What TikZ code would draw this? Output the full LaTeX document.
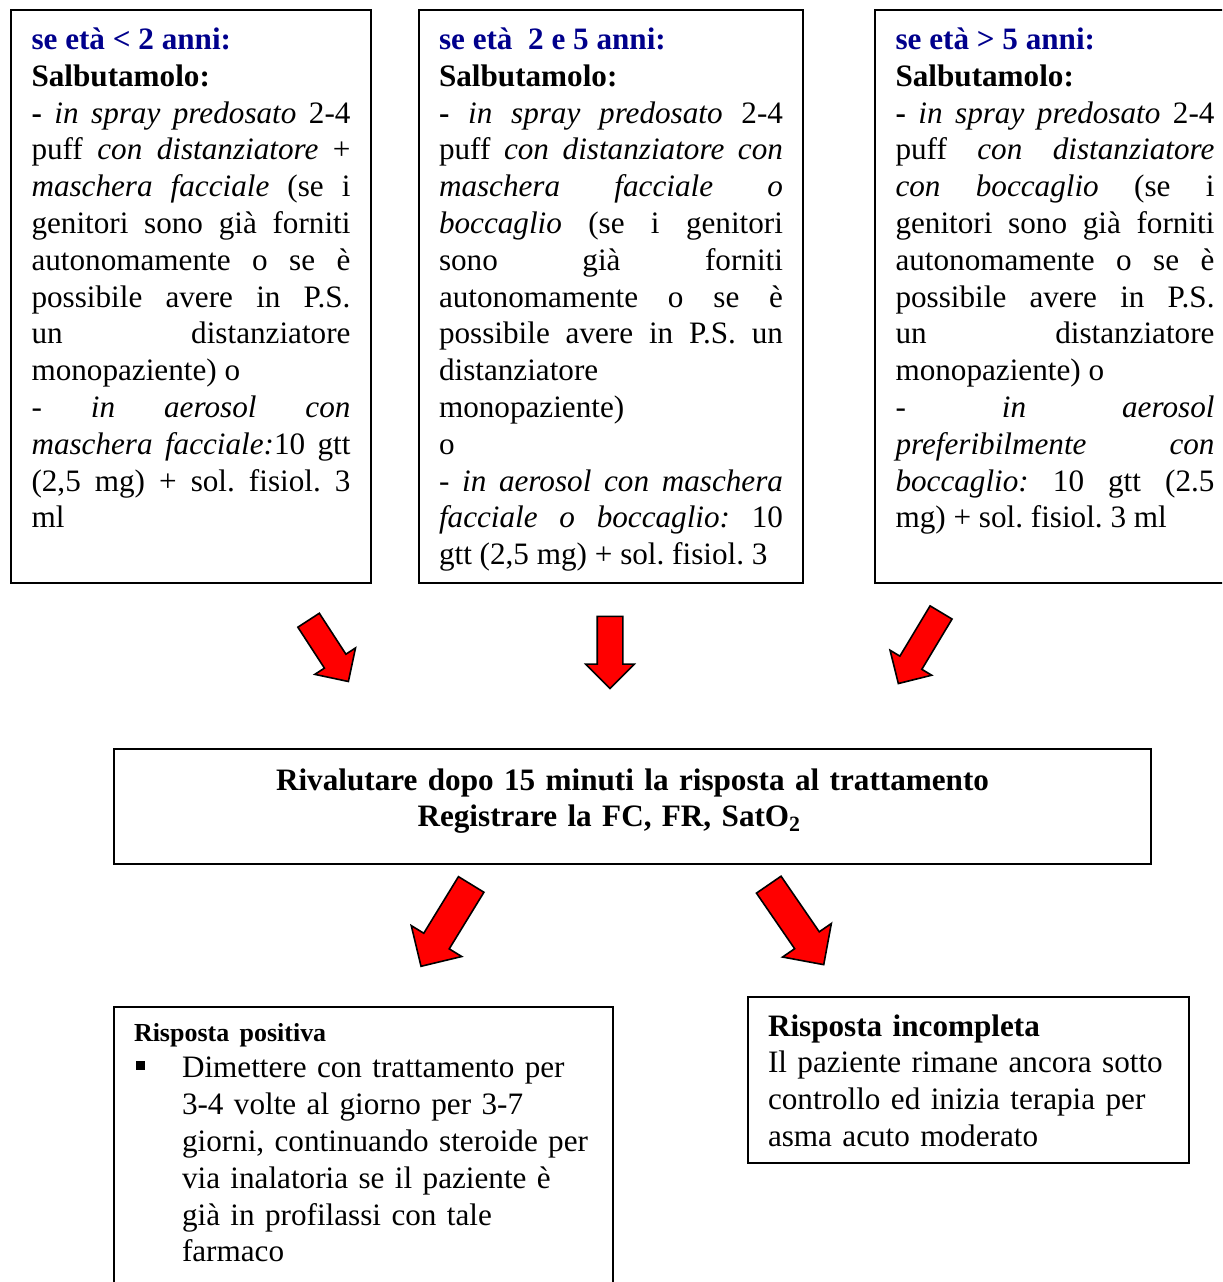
\documentclass[tikz,border=0pt]{standalone}
\usepackage{fontspec}
\setmainfont{Liberation Serif}
\usetikzlibrary{shapes.arrows}
\definecolor{headblue}{RGB}{0,0,140}
\tolerance=10000
\hyphenpenalty=10000
\exhyphenpenalty=10000

\begin{document}
\begin{tikzpicture}[x=0.375pt, y=-0.375pt]
    \tikzstyle{agebox} = [draw=black, line width=0.75pt, anchor=north west, align=justify, inner xsep=7.6875pt, inner ysep=3.75pt, text width=119.625pt, text height=11.1pt, text depth=196.275pt, font={\fontsize{11.69}{13.8}\selectfont\frenchspacing}]
    \tikzstyle{resultbox} = [draw=black, line width=0.75pt, anchor=north west, align=left, inner xsep=7.5pt, inner ysep=3.75pt, font={\fontsize{11.69}{13.8}\selectfont\frenchspacing}]
    \tikzstyle{redarrow} = [single arrow, draw=black, line width=0.6pt, fill=red, inner sep=4.5pt, single arrow head extend=4.3pt]
    \tikzstyle{bigredarrow} = [redarrow, inner sep=5.3pt, single arrow head extend=5.5pt]

    \clip (0,0) rectangle (1222,1282);
    \useasboundingbox (0,0) rectangle (1222,1282);

    \node (under2) [agebox] at (10,9) {{\color{headblue}\bfseries se età < 2 anni:}\par
        \textbf{Salbutamolo:}\par
        \textbf{-} \textit{in spray predosato} 2-4\linebreak
        puff \textit{con distanziatore} +\linebreak
        \textit{maschera facciale} (se i\linebreak
        genitori sono già forniti\linebreak
        autonomamente o se è\linebreak
        possibile avere in P.S.\linebreak
        un distanziatore\linebreak
        monopaziente) o\par
        - \textit{in aerosol con}\linebreak
        \textit{maschera facciale:}10 gtt\linebreak
        (2,5 mg) + sol. fisiol. 3\linebreak
        ml};
    \node (from2to5) [agebox, text width=129pt, inner xsep=7.5pt] at (418,9) {{\color{headblue}\bfseries se età\ \ 2 e 5 anni:}\par
        \textbf{Salbutamolo:}\par
        \textbf{-} \textit{in spray predosato} 2-4\linebreak
        puff \textit{con distanziatore con}\linebreak
        \textit{maschera facciale o}\linebreak
        \textit{boccaglio} (se i genitori\linebreak
        sono già forniti\linebreak
        autonomamente o se è\linebreak
        possibile avere in P.S. un\linebreak
        distanziatore\par
        monopaziente)\par
        o\par
        - \textit{in aerosol con maschera}\linebreak
        \textit{facciale o boccaglio:} 10\linebreak
        gtt (2,5 mg) + sol. fisiol. 3};
    \node (over5) [agebox] at (874,9) {{\color{headblue}\bfseries se età > 5 anni:}\par
        \textbf{Salbutamolo:}\par
        \textbf{-} \textit{in spray predosato} 2-4\linebreak
        puff \textit{con distanziatore}\linebreak
        \textit{con boccaglio} (se i\linebreak
        genitori sono già forniti\linebreak
        autonomamente o se è\linebreak
        possibile avere in P.S.\linebreak
        un distanziatore\linebreak
        monopaziente) o\par
        - \textit{in aerosol}\linebreak
        \textit{preferibilmente con}\linebreak
        \textit{boccaglio:} 10 gtt (2.5\linebreak
        mg) + sol. fisiol. 3 ml};

    \node (reassess) [resultbox, align=center, text width=375pt, inner xsep=6.9375pt, text height=11.625pt, text depth=24pt] at (113,748) {\bfseries Rivalutare dopo 15 minuti la risposta al trattamento\\ Registrare la FC, FR, SatO\textsubscript{2}\hspace{17.25pt}\mbox{}};

    \node (positive) [resultbox, text width=172.125pt, text height=9pt, text depth=93.75pt] at (113,1006) {{\fontsize{9.74}{11.5}\selectfont\bfseries Risposta positiva\par}
        \makebox[18pt][l]{\hspace{0.75pt}\rule[3.1pt]{3.3pt}{3.3pt}}\parbox[t]{154.125pt}{Dimettere con trattamento per\\
        3-4 volte al giorno per 3-7\\
        giorni, continuando steroide per\\
        via inalatoria se il paziente è\\
        già in profilassi con tale\\
        farmaco}};
    \node (incomplete) [resultbox, text width=150.375pt, text height=10.875pt, text depth=43.875pt] at (747,996) {\textbf{Risposta incompleta}\\
        Il paziente rimane ancora sotto\\
        controllo ed inizia terapia per\\
        asma acuto moderato};

    \node (arrunder2) [redarrow, minimum height=27.4pt, rotate=-57] at (325,645.5) {};
    \node (arrfrom2to5) [redarrow, minimum height=27pt, rotate=-90] at (610,646) {};
    \node (arrover5) [redarrow, minimum height=31.1pt, rotate=-121] at (923,642.5) {};
    \node (arrpositive) [bigredarrow, minimum height=36pt, rotate=-121.5] at (450,919) {};
    \node (arrincomplete) [bigredarrow, minimum height=36.4pt, rotate=-55.5] at (792,918.5) {};
\end{tikzpicture}
\end{document}
